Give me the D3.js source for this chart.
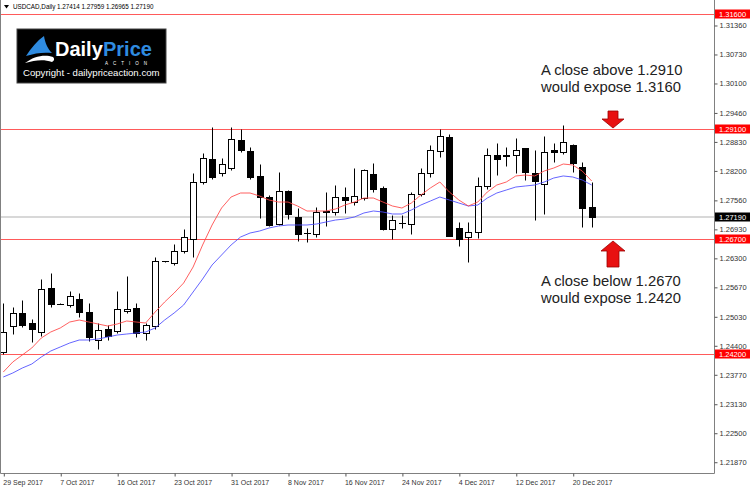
<!DOCTYPE html>
<html>
<head>
<meta charset="utf-8">
<script src="https://cdnjs.cloudflare.com/ajax/libs/d3/7.8.5/d3.min.js"></script>
<style>
body { margin: 0; background: #fff; }
text { font-family: "Liberation Sans", Arial, sans-serif; }
</style>
</head>
<body>
<div id="chart"></div>
<script>
// USDCAD daily bars
var opens = [1.24248, 1.24819, 1.25095, 1.24878, 1.24689, 1.25652, 1.25300, 1.25282, 1.25413, 1.25123,
    1.24515, 1.24761, 1.24717, 1.25139, 1.25217, 1.24661, 1.24819, 1.26230, 1.26182, 1.26456,
    1.26716, 1.27955, 1.28442, 1.28138, 1.28259, 1.28861, 1.28629, 1.28085, 1.27616, 1.27029,
    1.27760, 1.27181, 1.26830, 1.26825, 1.27310, 1.27290, 1.27616, 1.27507, 1.27594, 1.28116,
    1.27811, 1.26927, 1.27050, 1.27029, 1.27694, 1.28138, 1.28622, 1.28920, 1.26942, 1.26753,
    1.26868, 1.27868, 1.28535, 1.28506, 1.28535, 1.28681, 1.28138, 1.27898, 1.28637, 1.28607,
    1.28753, 1.28268, 1.27414];
var highs = [1.25326, 1.25239, 1.25384, 1.24965, 1.25834, 1.25978, 1.25310, 1.25586, 1.25543, 1.25312,
    1.24891, 1.24847, 1.25573, 1.25906, 1.25326, 1.24891, 1.26312, 1.26240, 1.26601, 1.26927,
    1.28151, 1.28572, 1.29150, 1.28463, 1.29137, 1.29100, 1.28702, 1.28333, 1.27666, 1.28172,
    1.27770, 1.27390, 1.26942, 1.27412, 1.27725, 1.27883, 1.27846, 1.28246, 1.28224, 1.28355,
    1.27868, 1.27231, 1.27230, 1.27725, 1.28246, 1.28753, 1.29100, 1.28990, 1.27073, 1.27073,
    1.28064, 1.28681, 1.28790, 1.28716, 1.28911, 1.28690, 1.28644, 1.28955, 1.28790, 1.29187,
    1.28770, 1.28390, 1.27959];
var lows = [1.24220, 1.24646, 1.24804, 1.24478, 1.24602, 1.25239, 1.25290, 1.25239, 1.25021, 1.24500,
    1.24326, 1.24515, 1.24661, 1.25109, 1.24574, 1.24515, 1.24761, 1.26220, 1.26138, 1.26412,
    1.26325, 1.27898, 1.28014, 1.28085, 1.28209, 1.28594, 1.28014, 1.27160, 1.27000, 1.27014,
    1.27138, 1.26666, 1.26655, 1.26760, 1.26999, 1.27231, 1.27268, 1.27449, 1.27557, 1.27738,
    1.26905, 1.26710, 1.26940, 1.26812, 1.27644, 1.28050, 1.28498, 1.26770, 1.26558, 1.26203,
    1.26725, 1.27796, 1.28101, 1.28303, 1.28138, 1.27992, 1.27123, 1.27247, 1.28390, 1.28550,
    1.28172, 1.26977, 1.26965];
var closes = [1.24689, 1.25095, 1.24848, 1.24761, 1.25623, 1.25297, 1.25300, 1.25478, 1.25124, 1.24587,
    1.24732, 1.24602, 1.25182, 1.25196, 1.24661, 1.24835, 1.26238, 1.26230, 1.26456, 1.26747,
    1.27948, 1.28463, 1.28057, 1.28333, 1.28883, 1.28637, 1.28064, 1.27616, 1.27014, 1.27753,
    1.27247, 1.26819, 1.26830, 1.27303, 1.27290, 1.27616, 1.27557, 1.27644, 1.28203, 1.27796,
    1.26927, 1.27116, 1.27050, 1.27681, 1.28138, 1.28644, 1.28955, 1.26782, 1.26710, 1.26855,
    1.27862, 1.28535, 1.28442, 1.28535, 1.28644, 1.28159, 1.27970, 1.28607, 1.28594, 1.28811,
    1.28355, 1.27377, 1.27190];

// moving averages as drawn on the chart (red = fast, blue = slow)
var maFast = [1.23819, 1.24037, 1.24189, 1.24341, 1.24558, 1.24689, 1.24776, 1.24906, 1.24949, 1.24906,
    1.24862, 1.24819, 1.24862, 1.24928, 1.24906, 1.24884, 1.25123, 1.25341, 1.25536, 1.25753,
    1.26101, 1.26579, 1.27014, 1.27383, 1.27622, 1.27709, 1.27709, 1.27644, 1.27557, 1.27513,
    1.27513, 1.27427, 1.27318, 1.27318, 1.27318, 1.27361, 1.27448, 1.27513, 1.27600, 1.27600,
    1.27513, 1.27427, 1.27383, 1.27492, 1.27666, 1.27818, 1.27948, 1.27731, 1.27557, 1.27427,
    1.27513, 1.27731, 1.27883, 1.27948, 1.28079, 1.28100, 1.28079, 1.28187, 1.28252, 1.28339,
    1.28318, 1.28187, 1.27970];
var maSlow = [1.23711, 1.23798, 1.23906, 1.23993, 1.24145, 1.24276, 1.24363, 1.24450, 1.24515, 1.24515,
    1.24537, 1.24580, 1.24623, 1.24645, 1.24667, 1.24689, 1.24776, 1.24949, 1.25102, 1.25275,
    1.25558, 1.25840, 1.26145, 1.26362, 1.26579, 1.26753, 1.26840, 1.26883, 1.26949, 1.26992,
    1.27014, 1.27014, 1.27014, 1.27035, 1.27079, 1.27122, 1.27144, 1.27188, 1.27275, 1.27318,
    1.27296, 1.27253, 1.27253, 1.27340, 1.27448, 1.27535, 1.27622, 1.27557, 1.27492, 1.27427,
    1.27448, 1.27600, 1.27709, 1.27774, 1.27839, 1.27861, 1.27883, 1.27948, 1.28035, 1.28079,
    1.28057, 1.27992, 1.27883];

var dateLabels = ['29 Sep 2017', '7 Oct 2017', '16 Oct 2017', '23 Oct 2017', '31 Oct 2017', '8 Nov 2017',
    '16 Nov 2017', '24 Nov 2017', '4 Dec 2017', '12 Dec 2017', '20 Dec 2017'];
var barsPerLabel = 6;

var priceTicks = [1.31360, 1.30730, 1.30100, 1.29460, 1.28830, 1.28200, 1.27560, 1.26930,
    1.26300, 1.25670, 1.25030, 1.24400, 1.23770, 1.23130, 1.22500, 1.21870];
var levels = [1.3160, 1.2910, 1.2670, 1.2420];
var lastPrice = 1.27190;
var header = 'USDCAD,Daily  1.27414 1.27959 1.26965 1.27190';
var noteAbove = ['A close above 1.2910', 'would expose 1.3160'];
var noteBelow = ['A close below 1.2670', 'would expose 1.2420'];

var width = 750,
    height = 487,
    plotRight = 714,
    plotBottom = 473;

var fmt = d3.format('.5f');

var x = d3.scaleLinear()
    .domain([0, opens.length - 1])
    .range([3.3, 591.7]);
var y = d3.scaleLinear()
    .domain([1.21625, 1.31903])
    .range([plotBottom, 0]);

function py(v) { return Math.round(y(v)) + 0.5; }
function px(i) { return Math.round(x(i)); }

var svg = d3.select('#chart')
    .append('svg')
        .attr('width', width)
        .attr('height', height);

var plot = svg.append('g');

// clip so the first bar is cut by the frame like in MT4
svg.append('defs').append('clipPath')
    .attr('id', 'plot-clip')
  .append('rect')
    .attr('x', 1).attr('y', 0)
    .attr('width', plotRight - 1).attr('height', plotBottom);

var inner = plot.append('g').attr('clip-path', 'url(#plot-clip)');

// current price line
inner.append('line')
    .attr('x1', 0).attr('x2', plotRight)
    .attr('y1', y(lastPrice)).attr('y2', y(lastPrice))
    .style('stroke', '#d8d8d8')
    .style('stroke-width', 2);

// horizontal levels
inner.selectAll('line.level')
    .data(levels)
    .enter()
    .append('line')
        .attr('class', 'level')
        .attr('x1', 0).attr('x2', plotRight)
        .attr('y1', function (d) { return py(d); })
        .attr('y2', function (d) { return py(d); })
        .style('stroke', '#ff5a5a')
        .style('stroke-width', 1.2);

var bars = d3.range(opens.length).map(function (i) {
    return {i: i, o: opens[i], h: highs[i], l: lows[i], c: closes[i]};
});

// wicks
inner.selectAll('line.wick')
    .data(bars)
    .enter()
    .append('line')
        .attr('class', 'wick')
        .attr('x1', function (d) { return px(d.i) + 0.5; })
        .attr('x2', function (d) { return px(d.i) + 0.5; })
        .attr('y1', function (d) { return py(d.h); })
        .attr('y2', function (d) { return py(d.l); })
        .style('stroke', '#000')
        .style('stroke-width', 1);

// bodies
inner.selectAll('rect.body')
    .data(bars.filter(function (d) { return Math.abs(py(d.o) - py(d.c)) >= 1; }))
    .enter()
    .append('rect')
        .attr('class', 'body')
        .attr('x', function (d) { return px(d.i) - 2.5; })
        .attr('y', function (d) { return py(Math.max(d.o, d.c)); })
        .attr('width', 6)
        .attr('height', function (d) { return Math.abs(py(d.o) - py(d.c)); })
        .style('fill', function (d) { return d.c >= d.o ? '#fff' : '#000'; })
        .style('stroke', '#000')
        .style('stroke-width', 1);

// dojis: a flat dash
inner.selectAll('line.doji')
    .data(bars.filter(function (d) { return Math.abs(py(d.o) - py(d.c)) < 1; }))
    .enter()
    .append('line')
        .attr('class', 'doji')
        .attr('x1', function (d) { return px(d.i) - 3; })
        .attr('x2', function (d) { return px(d.i) + 4; })
        .attr('y1', function (d) { return py(d.c); })
        .attr('y2', function (d) { return py(d.c); })
        .style('stroke', '#000')
        .style('stroke-width', 1);

// moving averages
var maLine = d3.line()
    .x(function (d, i) { return x(i); })
    .y(function (d) { return y(d); });

inner.append('path')
    .datum(maSlow)
    .attr('d', maLine)
    .style('fill', 'none')
    .style('stroke', '#4a4aff')
    .style('stroke-width', 1)
    .style('opacity', 0.85);

inner.append('path')
    .datum(maFast)
    .attr('d', maLine)
    .style('fill', 'none')
    .style('stroke', '#ff4444')
    .style('stroke-width', 1)
    .style('opacity', 0.85);

// frame
plot.append('path')
    .attr('d', 'M0.5,0 V' + (plotBottom + 0.5) + ' H' + (plotRight + 0.5) + ' V0')
    .style('fill', 'none')
    .style('stroke', '#808080')
    .style('stroke-width', 1);

// price axis
var yAxis = d3.axisRight(y)
    .tickValues(priceTicks)
    .tickSize(3)
    .tickPadding(2)
    .tickFormat(fmt);

var yAxisG = svg.append('g')
    .attr('transform', 'translate(' + (plotRight + 0.5) + ',0.5)')
    .call(yAxis);
yAxisG.select('.domain').remove();
yAxisG.selectAll('line').style('stroke', '#555');
yAxisG.selectAll('text')
    .style('font-family', '"Liberation Sans", Arial, sans-serif')
    .style('font-size', '7.5px')
    .style('fill', '#333');

// level tags on the price axis
var tags = levels.map(function (d) { return {v: d, bg: '#ff0000'}; })
    .concat([{v: lastPrice, bg: '#000'}]);

var tagG = svg.selectAll('g.tag')
    .data(tags)
    .enter()
    .append('g')
        .attr('class', 'tag')
        .attr('transform', function (d) { return 'translate(' + (plotRight + 1) + ',' + Math.round(y(d.v)) + ')'; });
tagG.append('rect')
    .attr('x', 0).attr('y', -4.5)
    .attr('width', width - plotRight).attr('height', 9)
    .style('fill', function (d) { return d.bg; });
tagG.append('text')
    .attr('x', 4).attr('y', 2.8)
    .style('font-size', '7.5px')
    .style('fill', '#fff')
    .text(function (d) { return fmt(d.v); });

// date axis
var xAxis = d3.axisBottom(x)
    .tickValues(dateLabels.map(function (d, i) { return i * barsPerLabel; }))
    .tickSize(3)
    .tickFormat(function (d) { return dateLabels[d / barsPerLabel]; });

var xAxisG = svg.append('g')
    .attr('transform', 'translate(0.5,' + (plotBottom + 0.5) + ')')
    .call(xAxis);
xAxisG.select('.domain').remove();
xAxisG.selectAll('line').style('stroke', '#555');
xAxisG.selectAll('text')
    .attr('text-anchor', 'start')
    .attr('dx', -1)
    .attr('y', 7)
    .attr('dy', '0.71em')
    .style('font-family', '"Liberation Sans", Arial, sans-serif')
    .style('font-size', '7px')
    .style('fill', '#333');

// header
svg.append('path')
    .attr('d', 'M4,5 L9,5 L6.5,8.5 Z')
    .style('fill', '#000');
svg.append('text')
    .attr('x', 13).attr('y', 9)
    .style('font-size', '6.3px')
    .style('fill', '#000')
    .text(header);

// logo
var logo = svg.append('g').attr('transform', 'translate(17,29)');
logo.append('rect')
    .attr('width', 149).attr('height', 54)
    .style('fill', '#000')
    .style('stroke', '#444');
logo.append('path')
    .attr('d', 'M9,27 C14,19 20,12 27,7 C28,14 31,20 35,24 C27,23 18,24 9,27 Z')
    .style('fill', '#2f8be0');
logo.append('path')
    .attr('d', 'M8,34 C17,27 28,25 36,28 C38,30 37,32 35,33 C27,30 18,31 8,34 Z')
    .style('fill', '#fff');
logo.append('text')
    .attr('x', 38).attr('y', 27)
    .style('font-size', '20px')
    .style('font-weight', 'bold')
    .style('fill', '#fff')
    .text('Daily');
logo.append('text')
    .attr('x', 86).attr('y', 27)
    .style('font-size', '20px')
    .style('font-weight', 'bold')
    .style('fill', '#2f8be0')
    .text('Price');
logo.append('text')
    .attr('x', 88).attr('y', 35.8)
    .style('font-size', '4.5px')
    .style('letter-spacing', '5px')
    .style('fill', '#fff')
    .text('ACTION');
logo.append('text')
    .attr('x', 6).attr('y', 47)
    .style('font-size', '9.6px')
    .style('fill', '#fff')
    .text('Copyright - dailypriceaction.com');

// notes
function note(lines, top) {
    svg.selectAll(null)
        .data(lines)
        .enter()
        .append('text')
            .attr('x', 541)
            .attr('y', function (d, i) { return top + i * 17; })
            .style('font-size', '14.8px')
            .style('fill', '#222')
            .text(function (d) { return d; });
}
note(noteAbove, 75);
note(noteBelow, 286);

// arrows towards the levels
var ax = 613;
var yTop = Math.round(y(levels[1])), yBot = Math.round(y(levels[2]));
svg.append('path')
    .attr('d', 'M' + (ax - 5) + ',' + (yTop - 18) + ' h10 v8 h6 l-11,' + 9 + ' l-11,-9 h6 Z')
    .style('fill', '#e81010')
    .style('stroke', '#9a0000')
    .style('stroke-width', 0.8);
svg.append('path')
    .attr('d', 'M' + ax + ',' + (yBot + 2) + ' l12,10 h-6 v16 h-12 v-16 h-6 Z')
    .style('fill', '#e81010')
    .style('stroke', '#9a0000')
    .style('stroke-width', 0.8);
</script>
</body>
</html>
